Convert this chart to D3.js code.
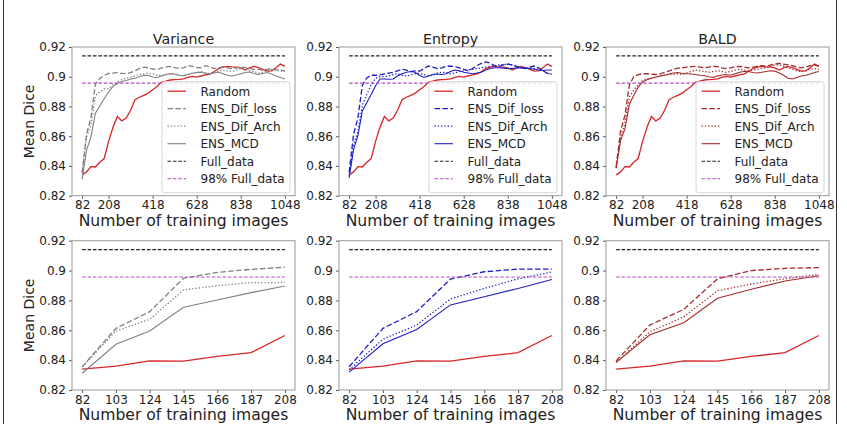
<!DOCTYPE html>
<html>
<head>
<meta charset="utf-8">
<script src="https://cdn.jsdelivr.net/npm/d3@7"></script>
<style>
  body { margin: 0; background: #fff; }
  text { font-family: "DejaVu Sans", sans-serif; fill: #222; }
</style>
</head>
<body>
<div id="chart"></div>
<script>
// mean dice vs number of training images, 3 acquisition functions

var nImages = [82, 103, 124, 145, 166, 187, 208, 229, 250, 271, 292, 313, 334, 355, 376, 397,
  418, 439, 460, 481, 502, 523, 544, 565, 586, 607, 628, 649, 670, 691, 712, 733,
  754, 775, 796, 817, 838, 859, 880, 901, 922, 943, 964, 985, 1006, 1027, 1048];

var topTicks = [82, 208, 418, 628, 838, 1048];
var bottomTicks = [82, 103, 124, 145, 166, 187, 208];
var yTicks = [0.82, 0.84, 0.86, 0.88, 0.9, 0.92];

var fullData = 0.914;
var fullData98 = 0.8957;

var randomDice = [0.834, 0.836, 0.8395, 0.8393, 0.8425, 0.845, 0.8565, 0.866, 0.8733, 0.8703,
  0.8722, 0.8775, 0.8846, 0.8862, 0.8875, 0.889, 0.8912, 0.8935, 0.8962, 0.897,
  0.8978, 0.898, 0.8982, 0.8985, 0.8995, 0.9003, 0.8997, 0.9005, 0.9012, 0.9018,
  0.9035, 0.9055, 0.9065, 0.907, 0.9067, 0.9065, 0.906, 0.9045, 0.906, 0.907,
  0.9062, 0.905, 0.9038, 0.904, 0.906, 0.9085, 0.907];

var varLoss = [0.8355, 0.8613, 0.8725, 0.8948, 0.8988, 0.9008, 0.9022, 0.9025, 0.9028, 0.9022,
  0.902, 0.9028, 0.904, 0.9055, 0.9065, 0.906, 0.9052, 0.905, 0.9058, 0.9065,
  0.907, 0.9062, 0.9055, 0.906, 0.9075, 0.907, 0.9062, 0.906, 0.9075, 0.9065,
  0.9055, 0.906, 0.9068, 0.906, 0.9055, 0.906, 0.9065, 0.9062, 0.9055, 0.905,
  0.905, 0.9045, 0.905, 0.9055, 0.9048, 0.9045, 0.904];
var varArch = [0.8355, 0.8595, 0.8673, 0.887, 0.8899, 0.8919, 0.892, 0.8945, 0.8965, 0.898,
  0.899, 0.8998, 0.9005, 0.9015, 0.902, 0.9025, 0.9018, 0.901, 0.9008, 0.9015,
  0.9022, 0.9018, 0.901, 0.9005, 0.9015, 0.9025, 0.903, 0.9035, 0.9028, 0.902,
  0.903, 0.904, 0.9045, 0.904, 0.9035, 0.9045, 0.9055, 0.905, 0.904, 0.9035,
  0.9025, 0.903, 0.904, 0.9048, 0.9045, 0.9038, 0.9035];
var varMcd = [0.8312, 0.8506, 0.8595, 0.8754, 0.8803, 0.8852, 0.8897, 0.8935, 0.8955, 0.8968,
  0.8975, 0.8985, 0.899, 0.9, 0.901, 0.9008, 0.8998, 0.8995, 0.9005, 0.9015,
  0.902, 0.9018, 0.901, 0.9008, 0.9015, 0.9022, 0.9028, 0.903, 0.9022, 0.902,
  0.9025, 0.903, 0.902, 0.901, 0.9005, 0.9012, 0.902, 0.9028, 0.9032, 0.9022,
  0.9015, 0.9022, 0.9028, 0.9018, 0.9005, 0.8995, 0.8985];

var entLoss = [0.8356, 0.8613, 0.8725, 0.8943, 0.8992, 0.901, 0.901, 0.9012, 0.902, 0.9025,
  0.903, 0.904, 0.905, 0.9045, 0.9035, 0.904, 0.9038, 0.9055, 0.9072, 0.9065,
  0.9055, 0.906, 0.907, 0.9072, 0.9068, 0.906, 0.905, 0.904, 0.9055, 0.9075,
  0.909, 0.91, 0.9092, 0.9075, 0.907, 0.908, 0.9085, 0.908, 0.907, 0.906,
  0.9055, 0.9065, 0.9072, 0.906, 0.904, 0.9022, 0.9017];
var entArch = [0.8335, 0.854, 0.8635, 0.881, 0.888, 0.8945, 0.899, 0.9, 0.9002, 0.9005,
  0.9015, 0.902, 0.901, 0.9005, 0.9012, 0.902, 0.9022, 0.9015, 0.9005, 0.901,
  0.9025, 0.903, 0.9028, 0.902, 0.9025, 0.9035, 0.904, 0.9045, 0.905, 0.9055,
  0.906, 0.9065, 0.907, 0.9075, 0.908, 0.9082, 0.9085, 0.9078, 0.907, 0.906,
  0.9055, 0.906, 0.9055, 0.905, 0.904, 0.9025, 0.9015];
var entMcd = [0.832, 0.851, 0.8605, 0.877, 0.8825, 0.888, 0.894, 0.8985, 0.8985, 0.8983,
  0.8985, 0.9005, 0.902, 0.903, 0.9035, 0.903, 0.9008, 0.8995, 0.9005, 0.9015,
  0.9018, 0.9015, 0.902, 0.9035, 0.9045, 0.904, 0.903, 0.9025, 0.902, 0.9025,
  0.903, 0.9045, 0.9055, 0.906, 0.906, 0.9058, 0.9055, 0.9055, 0.9058, 0.906,
  0.9058, 0.9055, 0.905, 0.9045, 0.9042, 0.9045, 0.9045];

var baldLoss = [0.8395, 0.8635, 0.874, 0.8945, 0.9, 0.9015, 0.902, 0.902, 0.9018, 0.9015,
  0.902, 0.903, 0.904, 0.905, 0.9058, 0.906, 0.9065, 0.9068, 0.907, 0.9065,
  0.906, 0.9065, 0.907, 0.9068, 0.906, 0.9055, 0.906, 0.9068, 0.907, 0.9065,
  0.906, 0.9065, 0.907, 0.9075, 0.907, 0.9078, 0.9085, 0.909, 0.9085, 0.908,
  0.9075, 0.9065, 0.906, 0.9065, 0.9075, 0.908, 0.9072];
var baldArch = [0.8385, 0.859, 0.869, 0.8865, 0.891, 0.8945, 0.8975, 0.8985, 0.899, 0.8995,
  0.9005, 0.901, 0.9015, 0.9018, 0.902, 0.9015, 0.9025, 0.9035, 0.9045, 0.904,
  0.9035, 0.903, 0.9035, 0.904, 0.9035, 0.903, 0.9035, 0.9045, 0.905, 0.9045,
  0.904, 0.9045, 0.905, 0.9055, 0.906, 0.907, 0.9078, 0.908, 0.9072, 0.906,
  0.905, 0.904, 0.9035, 0.904, 0.905, 0.9055, 0.905];
var baldMcd = [0.8385, 0.857, 0.865, 0.8815, 0.8875, 0.893, 0.8965, 0.898, 0.899, 0.8998,
  0.9005, 0.901, 0.9018, 0.9025, 0.9028, 0.9022, 0.902, 0.9018, 0.9015, 0.901,
  0.9008, 0.9, 0.8995, 0.9005, 0.9012, 0.9015, 0.901, 0.902, 0.903, 0.9035,
  0.9035, 0.9028, 0.9025, 0.903, 0.9035, 0.904, 0.9038, 0.9025, 0.901, 0.899,
  0.8985, 0.8995, 0.9005, 0.901, 0.9018, 0.9028, 0.9035];

var titles = ["Variance", "Entropy", "BALD"];
var ensColors = ["#808080", "#1f1fc8", "#a52a2a"];
var ensSeries = [[varLoss, varArch, varMcd], [entLoss, entArch, entMcd], [baldLoss, baldArch, baldMcd]];
var legendLabels = ["Random", "ENS_Dif_loss", "ENS_Dif_Arch", "ENS_MCD", "Full_data", "98% Full_data"];

var randomColor = "#d62728";
var fullColor = "#222";
var fullColor98 = "#b44fc0";

var svgWidth = 847;
var svgHeight = 424;
var panelLefts = [72, 339, 606];
var panelWidth = 223;
var rows = [{top: 47, bottom: 195.7}, {top: 240.7, bottom: 390}];

var svg = d3.select("#chart")
  .append("svg")
  .attr("width", svgWidth)
  .attr("height", svgHeight);

// outer frame lines of the figure
svg.append("line").attr("x1", 3.5).attr("x2", 3.5).attr("y1", 0).attr("y2", svgHeight)
  .attr("stroke", "#333").attr("stroke-width", 1);
svg.append("line").attr("x1", 836.5).attr("x2", 836.5).attr("y1", 0).attr("y2", svgHeight)
  .attr("stroke", "#333").attr("stroke-width", 1);

var styles = {
  solid: null,
  dashed: "5.5,2.4",
  dotted: "1.3,2",
  full: "3.6,1.8"
};

function drawPanel(col, row) {
  var left = panelLefts[col];
  var top = rows[row].top;
  var bottom = rows[row].bottom;
  var n = row == 0 ? nImages.length : 7;
  var xs = nImages.slice(0, n);
  var xMin = xs[0], xMax = xs[n - 1];
  var pad = (xMax - xMin) * 0.05;

  var xScale = d3.scaleLinear().domain([xMin - pad, xMax + pad]).range([left, left + panelWidth]);
  var yScale = d3.scaleLinear().domain([0.82, 0.92]).range([bottom, top]);

  var g = svg.append("g");

  var line = d3.line()
    .x(function(d) { return xScale(d.x); })
    .y(function(d) { return yScale(d.y); });

  function series(vals, color, dash, width) {
    var pts = xs.map(function(x, i) { return {x: x, y: vals[i]}; });
    g.append("path")
      .datum(pts)
      .attr("d", line)
      .attr("fill", "none")
      .attr("stroke", color)
      .attr("stroke-width", width || 1.2)
      .attr("stroke-dasharray", dash);
  }

  series(randomDice, randomColor, styles.solid, 1.3);
  series(ensSeries[col][0], ensColors[col], styles.dashed, 1.3);
  series(ensSeries[col][1], ensColors[col], styles.dotted, 1.3);
  series(ensSeries[col][2], ensColors[col], styles.solid, 1.1);
  series(xs.map(function() { return fullData; }), fullColor, styles.full, 1.1);
  series(xs.map(function() { return fullData98; }), fullColor98, styles.full, 1.1);

  // axes
  var bottomAxis = d3.axisBottom(xScale)
    .tickValues(row == 0 ? topTicks : bottomTicks)
    .tickSize(3)
    .tickPadding(2)
    .tickFormat(d3.format("d"));
  var leftAxis = d3.axisLeft(yScale)
    .tickValues(yTicks)
    .tickSize(3)
    .tickPadding(3)
    .tickFormat(function(d) { return d == 0.9 ? "0.9" : d3.format(".2f")(d); });

  var xg = g.append("g")
    .attr("transform", `translate(0, ${bottom})`)
    .call(bottomAxis);
  var yg = g.append("g")
    .attr("transform", `translate(${left}, 0)`)
    .call(leftAxis);
  [xg, yg].forEach(function(a) {
    a.select(".domain").remove();
    a.selectAll(".tick line").attr("stroke", "#555");
    a.selectAll(".tick text").attr("font-size", "12px").attr("fill", "#222")
      .style("font-family", "DejaVu Sans");
  });

  g.append("rect")
    .attr("x", left).attr("y", top)
    .attr("width", panelWidth).attr("height", bottom - top)
    .attr("fill", "none").attr("stroke", "#999").attr("stroke-width", 1);

  g.append("text")
    .attr("x", left + panelWidth / 2)
    .attr("y", bottom + 30)
    .attr("text-anchor", "middle")
    .attr("font-size", "15.6px")
    .text("Number of training images");

  if (col == 0) {
    g.append("text")
      .attr("transform", "rotate(-90)")
      .attr("x", -(top + bottom) / 2)
      .attr("y", 34)
      .attr("text-anchor", "middle")
      .attr("font-size", "14px")
      .text("Mean Dice");
  }

  if (row == 0) {
    g.append("text")
      .attr("x", left + panelWidth / 2)
      .attr("y", top - 3)
      .attr("text-anchor", "middle")
      .attr("font-size", "14.2px")
      .text(titles[col]);
    drawLegend(g, col, left + panelWidth - 5, bottom - 3);
  }
}

function drawLegend(g, col, right, bottom) {
  var w = 128, h = 111;
  var lx = right - w, ly = bottom - h;
  g.append("rect")
    .attr("x", lx).attr("y", ly)
    .attr("width", w).attr("height", h)
    .attr("rx", 2.5)
    .attr("fill", "#fff").attr("fill-opacity", 0.8)
    .attr("stroke", "#d6d6d6").attr("stroke-width", 1);

  var items = [
    {color: randomColor, dash: styles.solid, w: 1.3},
    {color: ensColors[col], dash: styles.dashed, w: 1.3},
    {color: ensColors[col], dash: styles.dotted, w: 1.3},
    {color: ensColors[col], dash: styles.solid, w: 1.1},
    {color: fullColor, dash: styles.full, w: 1.1},
    {color: fullColor98, dash: styles.full, w: 1.1}
  ];

  items.forEach(function(it, i) {
    var cy = ly + 9.5 + i * 17.5;
    g.append("line")
      .attr("x1", lx + 5.5).attr("x2", lx + 24)
      .attr("y1", cy).attr("y2", cy)
      .attr("stroke", it.color)
      .attr("stroke-width", it.w)
      .attr("stroke-dasharray", it.dash);
    g.append("text")
      .attr("x", lx + 38.5)
      .attr("y", cy)
      .attr("dy", "0.36em")
      .attr("font-size", "12px")
      .text(legendLabels[i]);
  });
}

[0, 1].forEach(function(row) {
  [0, 1, 2].forEach(function(col) {
    drawPanel(col, row);
  });
});
</script>
</body>
</html>
